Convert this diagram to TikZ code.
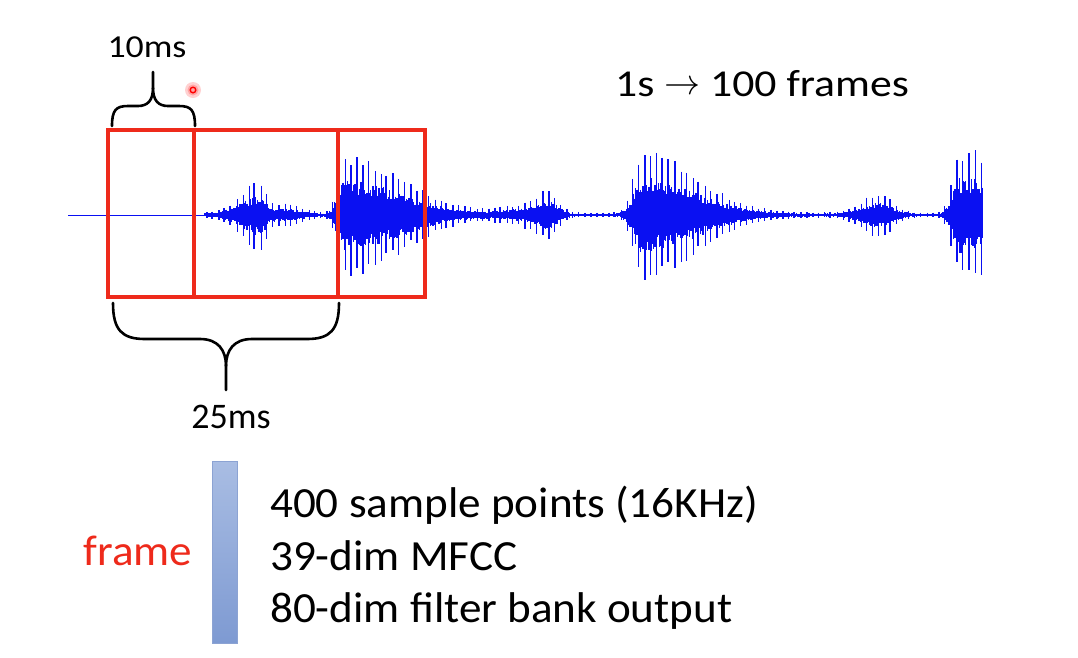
\documentclass[tikz,border=0pt]{standalone}
\usepackage{graphicx}
\usepackage{fontspec}
\setmainfont{Carlito}
\newfontfamily\lowfont{Carlito}[FakeStretch=1.05]
\newfontfamily\topfont{Carlito}[FakeStretch=1.15]
\newfontfamily\tenfont{Carlito}[FakeStretch=1.12]
\definecolor{framered}{HTML}{EE2A1B}
\definecolor{waveblue}{HTML}{0A10F2}
\definecolor{bartop}{HTML}{A9BDE3}
\definecolor{barbot}{HTML}{7E9AD2}
\definecolor{barline}{HTML}{8CA3D3}
\tikzset{
  declare function={
    bump(\x,\c,\a,\l,\r)=\a*exp(-min(((\x-\c)/((\x<\c)*\l+(\x>=\c)*\r))^2,20));
    env(\x)=2.5+bump(\x,260,28,28,8)+bump(\x,282,10,30,25)+bump(\x,344,60,9,80)
      +bump(\x,548,22,18,14)+bump(\x,520,7,30,20)+bump(\x,642,63,12,75)
      +bump(\x,880,20,25,18)+bump(\x,960,64,10,100);
  },
  wave/.style={draw=waveblue, line width=1.1pt},
  spike/.style={draw=waveblue, line width=1.5pt},
  framebox/.style={draw=framered, line width=4pt},
  brace/.style={draw=black, line width=2.6pt, line cap=round},
  tenlbl/.style={font=\tenfont\fontsize{32}{36}\selectfont, inner sep=0pt},
  twlbl/.style={font=\fontsize{36}{40}\selectfont, inner sep=0pt},
  toplbl/.style={font=\topfont\fontsize{38}{44}\selectfont, inner sep=0pt},
  big/.style={font=\lowfont\fontsize{43}{48}\selectfont, inner sep=0pt},
}
\begin{document}
\begin{tikzpicture}[x=1pt,y=-1pt]
\useasboundingbox (0,0) rectangle (1078,657);
% waveform
\draw[waveblue, line width=0.7pt] (68,215) -- (206,215);
\pgfmathsetseed{7}
\foreach \i in {0,...,648}{
  \pgfmathsetmacro\xx{205+1.2*\i}
  \pgfmathsetmacro\ee{env(\xx)}
  \pgfmathsetmacro\ya{215-\ee*(0.32+0.25*rnd)}
  \pgfmathsetmacro\yb{215+\ee*(0.32+0.25*rnd)}
  \draw[wave] (\xx,\ya) -- (\xx,\yb);
}
\foreach \i in {0,...,129}{
  \pgfmathsetmacro\xx{206+6*\i+1.5*rnd}
  \pgfmathsetmacro\ee{env(\xx)}
  \pgfmathsetmacro\ya{215-\ee*(0.78+0.22*rnd)}
  \pgfmathsetmacro\yb{215+\ee*(0.78+0.22*rnd)}
  \draw[spike] (\xx,\ya) -- (\xx,\yb);
}
% frames
\draw[framebox] (108,130) rectangle (425,297);
\draw[framebox] (194,130) -- (194,297);
\draw[framebox] (338,130) -- (338,297);
% top brace
\draw[brace] (112,126) .. controls (112,110) and (116,106) .. (128,106) -- (138,106)
  .. controls (148,106) and (153,100) .. (153,88) -- (153,72);
\draw[brace] (195,126) .. controls (195,110) and (191,106) .. (179,106) -- (168,106)
  .. controls (158,106) and (153,100) .. (153,88);
% bottom brace
\draw[brace] (113,303) .. controls (113,330) and (122,339) .. (145,339) -- (200,339)
  .. controls (218,339) and (226,350) .. (226,366) -- (226,390);
\draw[brace] (339,303) .. controls (339,330) and (330,339) .. (307,339) -- (252,339)
  .. controls (234,339) and (226,350) .. (226,366);
% pointer dot
\fill[red!18] (193,90) circle (8);
\fill[red!35] (193,90) circle (5.5);
\draw[red, line width=1.4pt] (193,90) circle (2.8);
% labels
\node[tenlbl, anchor=base] (t10) at (147,57) {10ms};
\node[twlbl, anchor=base] (t25) at (231,428) {25ms};
\node[toplbl, anchor=base] (rate) at (762,96) {1s \raisebox{2pt}{\resizebox{36pt}{!}{$\rightarrow$}} 100 frames};
% frame vector
\shade[top color=bartop, bottom color=barbot] (212,461) rectangle (237,643);
\draw[barline, line width=0.8pt] (212,461) rectangle (237,643);
\node[big, text=framered, anchor=base] (frm) at (138,565) {frame};
\node[big, anchor=base west] (l1) at (270,517) {400 sample points (16KHz)};
\node[big, anchor=base west] (l2) at (270,570) {39-dim MFCC};
\node[big, anchor=base west] (l3) at (270,622) {80-dim filter bank output};
\end{tikzpicture}
\end{document}
